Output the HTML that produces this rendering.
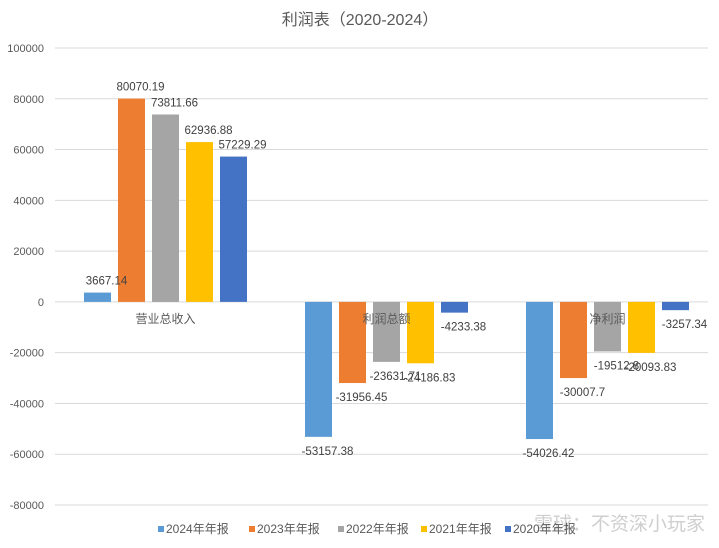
<!DOCTYPE html>
<html><head><meta charset="utf-8"><style>
body{margin:0;background:#fff;font-family:"Liberation Sans","Noto Sans CJK SC",sans-serif}
</style></head><body>
<svg id="c" width="719" height="543" xmlns="http://www.w3.org/2000/svg" font-family="Liberation Sans, Noto Sans CJK SC, sans-serif">
<text x="360" y="25" text-anchor="middle" font-size="16" fill="#595959">利润表（2020-2024）</text>
<text x="705" y="530" text-anchor="end" font-size="19" fill="#cfcfcf">雪球：不资深小玩家</text>
</svg>
<script>
const categories=["营业总收入","利润总额","净利润"];
const seriesNames=["2024年年报","2023年年报","2022年年报","2021年年报","2020年年报"];
const s2024=[3667.14,-53157.38,-54026.42];
const s2023=[80070.19,-31956.45,-30007.7];
const s2022=[73811.66,-23631.71,-19512.8];
const s2021=[62936.88,-24186.83,-20093.83];
const s2020=[57229.29,-4233.38,-3257.34];
const yTicks=[100000,80000,60000,40000,20000,0,-20000,-40000,-60000,-80000];
const colors=["#5b9bd5","#ed7d31","#a5a5a5","#ffc000","#4472c4"];
const series=[s2024,s2023,s2022,s2021,s2020];
const svg=document.getElementById('c');const NS="http://www.w3.org/2000/svg";
const x0=55,x1=718,yMax=100000,yMin=-80000,py0=48,py1=505;
const y=v=>py0+(yMax-v)/(yMax-yMin)*(py1-py0);
const gw=(x1-x0)/categories.length;
function mk(t,a,txt){const e=document.createElementNS(NS,t);for(const k in a)e.setAttribute(k,a[k]);if(txt!==undefined)e.textContent=txt;svg.appendChild(e);return e;}
yTicks.forEach(t=>{
 const g=mk('line',{x1:x0,x2:708,y1:y(t),y2:y(t),stroke:"#d9d9d9","stroke-width":1});
 
 
 const l=mk('text',{x:44,y:y(t)+4,"text-anchor":"end","font-size":11,fill:"#595959"},String(t));
 
 
});
const bw=27,step=34;
series.forEach((s,si)=>{s.forEach((v,ci)=>{
 const cx=x0+gw*(ci+0.5)+(si-2)*step;
 const top=Math.min(y(v),y(0)),h=Math.abs(y(v)-y(0));
 const r=mk('rect',{x:cx-bw/2,y:top,width:bw,height:h,fill:colors[si]});
 
 
});});
categories.forEach((c,ci)=>{
 const t=mk('text',{x:x0+gw*(ci+0.5),y:y(0)+21,"text-anchor":"middle","font-size":12,fill:"#595959"},c);
 
 
});
series.forEach((s,si)=>{s.forEach((v,ci)=>{
 const cx=x0+gw*(ci+0.5)+(si-2)*step;
 const ly=v>=0?y(v)-8:y(v)+18;
 const t=mk('text',{x:cx+9,y:ly,"text-anchor":"middle","font-size":11.5,fill:"#404040"},String(v));
 
 
});});
const lx=[158,249,338,421,505];
seriesNames.forEach((n,i)=>{
 const r=mk('rect',{x:lx[i],y:526,width:6,height:6,fill:colors[i]});
 
 
 const t=mk('text',{x:lx[i]+8,y:533,"font-size":12,fill:"#595959"},n);
 
 
});
</script>
</body></html>
